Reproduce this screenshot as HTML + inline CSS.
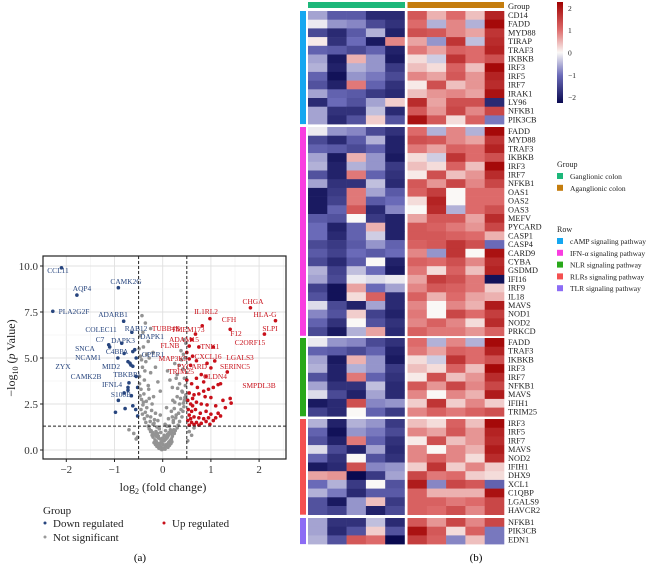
<!DOCTYPE html>
<html><head><meta charset="utf-8"><style>
html,body{margin:0;padding:0;background:#fff;}
svg{display:block;font-family:"Liberation Serif",serif;}
</style></head><body>
<svg id="fig" width="654" height="565" viewBox="0 0 654 565" xmlns="http://www.w3.org/2000/svg">
<g id="volcano"></g>
<g id="heat"></g>
<text x="140" y="561" font-size="11" text-anchor="middle">(a)</text>
<text x="476" y="561" font-size="11" text-anchor="middle">(b)</text>
</svg>
<script>
// ---------- Volcano data ----------
const grayX=[0,0.02,-0.03,0.05,-0.06,0.08,-0.1,0.12,-0.13,0.15,-0.16,0.18,-0.2,0.2,-0.22,0.24,-0.25,0.26,-0.28,0.3,0.01,-0.02,0.04,-0.05,0.07,-0.09,0.1,-0.11,0.13,-0.14,0.16,0,0.03,-0.04,0.06,-0.07,0.09,-0.08,0.11,-0.12,0.14,-0.15,0.17,-0.18,0.19,-0.02,0.05,-0.06,
-0.3,0.32,-0.35,0.35,-0.38,0.4,-0.42,0.42,-0.45,0.44,-0.2,0.22,-0.1,0.12,-0.25,0.28,-0.15,0.18,-0.33,0.35,-0.4,0.45,-0.28,0.3,-0.47,0.48,0.05,-0.05,0.08,0.25,-0.22,0.4,
-0.45,-0.3,-0.38,-0.48,-0.25,-0.42,-0.35,-0.46,-0.2,-0.4,-0.3,-0.47,-0.43,-0.25,-0.36,-0.15,0.2,0.35,0.45,0.3,0.42,0.25,0.46,0.38,0.48,0.44,0.15,-0.1,0.1,-0.05,
-0.6,0.55,-0.7,0.65,0.6,-0.55,0.52,-0.52,
-0.12,0.14,-0.18,0.22,-0.26,0.27,-0.32,0.33,-0.36,0.38,-0.41,0.43,-0.44,0.46,-0.08,0.09,-0.17,0.2,-0.23,0.24,-0.34,0.37,-0.39,0.41,-0.48,0.47,-0.29,0.31,-0.19,0.21,-0.37,-0.44,-0.33,-0.41,-0.28,0.28,0.34,0.39,0.43,-0.49,
-0.04,0.03,-0.01,0.07,-0.09,0.1,-0.13,0.12,-0.16,0.17,-0.21,0.19,-0.24,0.23];
const grayY=[0.05,0.1,0.15,0.2,0.25,0.3,0.35,0.4,0.45,0.5,0.55,0.6,0.7,0.75,0.8,0.9,1.0,1.05,1.15,1.2,0.3,0.45,0.55,0.6,0.7,0.75,0.85,0.9,0.95,1.0,1.1,0.65,0.8,0.95,1.05,1.15,0.2,0.1,0.15,0.2,0.25,0.3,0.35,0.4,0.45,0.02,0.05,0.08,
1.3,1.35,1.5,1.55,1.7,1.8,1.95,2.1,2.2,2.35,1.4,1.5,1.6,1.7,1.8,1.9,2.0,2.1,2.3,2.5,2.6,2.7,2.8,2.9,2.95,3.0,1.4,1.9,2.3,2.6,2.5,3.2,
3.3,3.5,3.8,4.0,4.2,4.5,4.8,5.1,5.3,5.6,5.9,6.2,7.3,6.6,6.9,4.5,3.4,3.6,3.9,4.1,4.4,4.7,5.0,5.4,5.8,6.0,3.8,3.7,4.3,3.2,
0.9,1.0,1.1,1.2,0.8,0.6,0.5,0.7,
1.25,1.3,1.45,1.6,1.55,1.75,1.85,2.0,2.05,2.2,2.45,2.55,2.75,2.85,1.2,1.3,1.65,1.8,2.15,2.25,2.65,2.8,3.05,3.15,3.6,3.5,3.3,3.35,2.9,2.7,4.3,4.9,5.2,6.4,5.0,3.9,4.6,4.9,5.2,5.5,
0.4,0.5,0.55,0.6,0.65,0.7,0.75,0.8,0.85,0.9,0.95,1.0,1.05,1.1];
const upX=[1.82,2.34,2.11,0.98,1.4,0.82,0.68,0.6,0.55,0.75,1.05,0.5,0.62,0.55,0.7,1.08,0.92,1.0,1.34,0.58,
0.8,0.9,0.7,1.2,1.15,0.85,0.6,0.95,1.05,0.55,0.65,0.75,0.88,1.0,1.25,1.4,1.42,0.52,0.58,0.62,0.7,0.8,0.92,1.1,1.3,0.53,0.6,0.68,0.78,0.9,1.0,1.15,1.2,0.55,0.65,0.75,0.85,0.95,1.05,1.1,0.52,0.6,0.7,0.8,0.9,0.98,0.55,0.65,0.75,0.62,0.72,0.5,0.85,0.58];
const upY=[7.73,7.03,6.3,7.14,6.56,6.75,6.3,6.0,5.65,5.6,5.6,5.3,5.1,4.95,4.85,4.84,4.71,4.46,4.24,4.6,
4.1,4.0,3.9,3.6,3.55,3.7,3.6,3.3,3.4,3.1,3.0,3.05,2.9,2.85,2.7,2.8,2.55,2.7,2.5,2.4,2.6,2.5,2.45,2.4,2.3,2.2,2.1,2.2,2.0,2.1,1.95,2.0,1.85,1.9,1.8,1.75,1.7,1.75,1.6,1.75,1.6,1.5,1.5,1.45,1.55,1.4,1.35,1.38,1.35,2.8,3.4,3.8,3.2,1.7];
const downX=[-2.1,-1.78,-2.28,-0.92,-0.81,-0.64,-0.85,-1.12,-1.1,-0.8,-0.62,-0.58,-0.55,-0.93,-0.72,-0.68,-0.62,-0.66,-0.7,-0.72,-0.72,-0.92,-0.8,-0.65,-0.98,-0.78,-0.62,-0.52,-0.56,-0.52,-0.55];
const downY=[9.9,8.42,7.54,8.82,7.0,6.4,5.8,5.72,5.6,5.25,5.35,5.45,5.0,5.0,4.8,4.72,4.55,4.62,3.65,3.4,3.25,2.7,3.1,2.95,2.05,2.25,2.4,1.85,2.2,3.4,4.0];
const xTicks=[-2,-1,0,1,2];
const yTicks=[0,2.5,5,7.5,10];
const yTickLabels=["0.0","2.5","5.0","7.5","10.0"];

// ---------- Heatmap data ----------
const groupNames=["cAMP signaling pathway","IFN-α signaling pathway","NLR signaling pathway","RLRs signaling pathway","TLR signaling pathway"];
const cAMPGenes=["CD14","FADD","MYD88","TIRAP","TRAF3","IKBKB","IRF3","IRF5","IRF7","IRAK1","LY96","NFKB1","PIK3CB"];
const ifnGenes=["FADD","MYD88","TRAF3","IKBKB","IRF3","IRF7","NFKB1","OAS1","OAS2","OAS3","MEFV","PYCARD","CASP1","CASP4","CARD9","CYBA","GSDMD","IFI16","IRF9","IL18","MAVS","NOD1","NOD2","PRKCD"];
const nlrGenes=["FADD","TRAF3","IKBKB","IRF3","IRF7","NFKB1","MAVS","IFIH1","TRIM25"];
const rlrGenes=["IRF3","IRF5","IRF7","MAVS","NOD2","IFIH1","DHX9","XCL1","C1QBP","LGALS9","HAVCR2"];
const tlrGenes=["NFKB1","PIK3CB","EDN1"];
const geneValues={
CD14:[-0.6,-1.2,-1.2,-1.8,-1.8,1.2,0.5,1.0,0.4,1.8],
FADD:[-0.1,-0.7,-0.8,-1.4,-1.7,1.0,-0.5,0.8,-0.5,2.1],
MYD88:[-1.4,-1.8,-1.2,-0.5,-1.9,1.3,1.2,0.8,0.6,1.6],
TIRAP:[0.1,-1.7,-1.0,-2.0,0.8,0.6,-0.7,1.6,-0.4,1.7],
TRAF3:[-1.1,-1.2,-1.4,-1.1,-1.9,0.9,0.6,1.1,1.0,1.8],
IKBKB:[-0.6,-2.0,0.5,-0.7,-2.0,0.2,-0.3,1.6,1.0,1.3],
IRF3:[-0.5,-1.9,-0.5,-0.7,-1.6,0.4,0.2,1.1,0.4,2.1],
IRF5:[-1.1,-2.1,-0.7,-0.9,-1.4,0.8,0.6,1.2,0.7,1.8],
IRF7:[-1.3,-1.9,0.9,-1.1,-1.7,0.1,1.3,0.4,0.7,1.7],
IRAK1:[-0.6,-1.1,-1.2,-1.6,-1.8,0.4,0.7,0.8,0.6,2.0],
LY96:[-1.8,-1.0,-1.3,-0.6,0.3,1.7,0.6,1.3,1.3,-1.8],
NFKB1:[-0.6,-1.7,-1.7,-0.4,-1.8,1.2,0.7,1.4,0.8,1.4],
PIK3CB:[-0.6,-1.8,-1.3,0.3,-1.3,2.0,1.2,0.2,1.1,-0.9],
OAS1:[-2.0,-1.6,0.9,-0.6,-1.2,1.1,1.5,0.0,1.0,1.0],
OAS2:[-2.0,-1.5,0.9,-1.2,-1.0,0.2,1.8,0.0,1.0,1.0],
OAS3:[-2.0,-1.1,1.2,-1.8,-0.8,0.0,1.7,-0.5,1.0,1.3],
MEFV:[-1.2,-1.3,0.0,-1.6,-1.9,0.6,1.2,1.2,0.6,1.7],
PYCARD:[-1.0,-1.9,-1.1,0.5,-1.9,1.2,1.1,0.9,0.7,1.4],
CASP1:[-1.0,-1.8,-1.1,-0.3,-1.9,1.2,1.2,1.1,1.0,0.5],
CASP4:[-1.4,-1.6,-1.2,-0.7,-1.1,1.1,1.2,1.6,1.3,-1.0],
CARD9:[-1.2,-1.5,-1.0,-1.2,-1.0,0.8,-0.7,1.6,0.0,2.0],
CYBA:[-1.4,-1.8,-1.2,0.0,-1.9,1.1,1.0,1.3,0.8,1.7],
GSDMD:[-0.5,-1.5,-0.4,-1.0,-2.0,0.9,0.2,1.1,0.4,1.8],
IFI16:[-0.6,-1.4,-0.1,-0.2,-0.1,0.6,1.5,1.3,0.9,-2.1],
IRF9:[-1.5,-2.1,0.6,-1.0,-0.6,0.8,1.2,1.1,0.9,0.3],
IL18:[-1.3,-2.1,0.2,1.1,-1.8,1.1,0.5,1.0,0.6,0.5],
MAVS:[-0.2,-1.4,-1.9,-0.6,-1.8,0.8,0.0,0.8,0.5,1.9],
NOD1:[-0.8,-1.3,0.3,-1.5,-1.9,0.9,0.0,1.4,1.0,1.5],
NOD2:[-1.1,-1.7,0.0,-1.3,-1.7,0.8,1.1,0.8,0.2,1.7],
PRKCD:[-1.4,-2.0,-0.5,0.6,-1.8,1.1,0.9,0.9,0.7,1.1],
IFIH1:[-2.0,-1.8,1.3,-0.8,-0.7,0.3,1.6,0.3,0.8,0.3],
TRIM25:[-1.5,-1.8,0.0,-1.1,-1.6,0.8,1.1,0.9,1.1,1.3],
DHX9:[0.6,0.7,-2.2,-1.6,-0.6,1.4,0.9,1.0,0.3,0.2],
XCL1:[-1.0,-0.5,-1.6,0.0,-1.3,1.9,-0.8,1.4,1.2,-1.1],
C1QBP:[-0.5,-0.9,-1.8,-1.2,-1.2,1.1,0.5,0.5,0.5,2.0],
LGALS9:[-1.3,-2.0,-0.7,0.4,-1.6,1.1,1.1,0.9,1.0,1.4],
HAVCR2:[-1.3,-1.5,-0.7,-1.9,-1.4,1.1,1.0,1.3,0.8,1.4],
EDN1:[-0.5,-1.3,1.2,1.0,-2.2,1.5,1.1,-0.8,0.4,-0.9]
};
const colorTicks=[2,1,0,-1,-2];

const NS="http://www.w3.org/2000/svg";
function mk(tag,attrs,parent){const e=document.createElementNS(NS,tag);for(const k in attrs)e.setAttribute(k,attrs[k]);parent.appendChild(e);return e;}

// ---------- Volcano ----------
const V=document.getElementById('volcano');
const L=43,R=286,T=256,B=459;
const sx=v=>162.7+v*48.2;
const sy=v=>450-v*18.4;
mk('rect',{x:L,y:T,width:R-L,height:B-T,fill:'#fff'},V);
for(let v=-2.5;v<=2.5;v+=0.5){const x=sx(v);if(x<L||x>R)continue;const g=mk('line',{x1:x,x2:x,y1:T,y2:B,stroke:Number.isInteger(v)?'#e0e0e0':'#efefef','stroke-width':Number.isInteger(v)?0.9:0.6},V);

}
for(let v=-1.25;v<=10.5;v+=1.25){const y=sy(v);if(y<T||y>B)continue;const g=mk('line',{x1:L,x2:R,y1:y,y2:y,stroke:(v%2.5===0)?'#e0e0e0':'#efefef','stroke-width':(v%2.5===0)?0.9:0.6},V);

}
function dots(xs,ys,col,name){for(let i=0;i<xs.length;i++){const c=mk('circle',{cx:sx(xs[i]),cy:sy(ys[i]),r:1.8,fill:col},V);

}}
dots(grayX,grayY,'#939393','point-not-significant');
dots(upX,upY,'#c8101a','point-up-regulated');
dots(downX,downY,'#27457e','point-down-regulated');
[[sx(-0.5),T,sx(-0.5),B],[sx(0.5),T,sx(0.5),B],[L,sy(1.3),R,sy(1.3)]].forEach(a=>{const d=mk('line',{x1:a[0],y1:a[1],x2:a[2],y2:a[3],stroke:'#222','stroke-width':1,'stroke-dasharray':'3,2'},V);

});
const fr=mk('rect',{x:L,y:T,width:R-L,height:B-T,fill:'none',stroke:'#222','stroke-width':1.2},V);


xTicks.forEach(t=>{const x=sx(t);mk('line',{x1:x,x2:x,y1:B,y2:B+3,stroke:'#222'},V);
const tx=mk('text',{x:x,y:B+14,'font-size':11,'text-anchor':'middle',fill:'#333'},V);tx.textContent=t<0?'−'+(-t):String(t);

});
yTicks.forEach((t,i)=>{const y=sy(t);mk('line',{x1:L-3,x2:L,y1:y,y2:y,stroke:'#222'},V);
const tx=mk('text',{x:L-5,y:y+4,'font-size':11,'text-anchor':'end',fill:'#333'},V);tx.textContent=yTickLabels[i];

});
const blueLab=[["CCL11",58,273],["AQP4",82,291],["PLA2G2F",74,314],["CAMK2G",126,284],["ADARB1",113,317],["RAB12",136,331],["COLEC11",101,332],["C7",100,342],["SNCA",85,351],["DAPK3",123,343],["DAPK1",152,339],["C4BPA",117,354],["GPER1",153,357],["NCAM1",88,360],["ZYX",63,369],["MID2",111,369],["CAMK2B",86,379],["TBKBP1",127,377],["IFNL4",112,387],["S100B",121,397]];
const redLab=[["CHGA",253,304],["HLA-G",265,317],["SLPI",270,331],["IL1RL2",206,314],["CFH",229,322],["TUBB4B",166,331],["TMEM173",188,332],["F12",236,336],["ADAM15",184,342],["C2ORF15",250,345],["FLNB",170,348],["TNK1",210,349],["CXCL16",208,359],["LGALS3",240,360],["MAP3K5",173,361],["SERINC5",235,369],["PYCARD",192,369],["TRIM25",181,374],["CLDN4",215,379],["SMPDL3B",259,388]];
function labs(arr,col){arr.forEach(a=>{const t=mk('text',{x:a[1],y:a[2],'font-size':7.4,'text-anchor':'middle',fill:col},V);t.textContent=a[0];

});}
labs(blueLab,'#27457e');labs(redLab,'#c8101a');
const yt=mk('text',{x:0,y:0,'font-size':12,'text-anchor':'middle',fill:'#222',transform:'translate(15,358) rotate(-90)'},V);
yt.innerHTML='−log<tspan font-size="8" dy="3">10</tspan><tspan dy="-3"> (</tspan><tspan font-style="italic">p</tspan> Value)';


const xt=mk('text',{x:163,y:491,'font-size':12,'text-anchor':'middle',fill:'#222'},V);
xt.innerHTML='log<tspan font-size="8" dy="3">2</tspan><tspan dy="-3"> (fold change)</tspan>';


const lg=mk('g',{},V);


[["Group",43,514,null],["Down regulated",53,527,'#27457e'],["Up regulated",172,527,'#c8101a'],["Not significant",53,541,'#9a9a9a']].forEach(a=>{
if(a[3]){mk('circle',{cx:a[1]-8,cy:a[2]-4,r:1.5,fill:a[3]},lg);}
const t=mk('text',{x:a[1],y:a[2],'font-size':11,fill:'#222'},lg);t.textContent=a[0];

});

// ---------- Heatmap ----------
const H=document.getElementById('heat');
const groups=[cAMPGenes,ifnGenes,nlrGenes,rlrGenes,tlrGenes];
const groupTop=[11,127,338,419,518];
const groupCol=['#16a7f0','#f93de0','#29a81a','#f45050','#8c6cf5'];
const rowH=8.7;
const colX=c=>c<5?308+c*19.3:407.5+(c-5)*19.3;
const stops=[[-2.2,[10,10,80]],[-1,[106,106,184]],[0,[250,248,246]],[1,[221,106,106]],[2.2,[160,0,0]]];
function col(v){v=Math.max(-2.2,Math.min(2.2,v));for(let i=0;i<stops.length-1;i++){const a=stops[i],b=stops[i+1];if(v<=b[0]){const t=(v-a[0])/(b[0]-a[0]);const c=a[1].map((x,j)=>Math.round(x+(b[1][j]-x)*t));return 'rgb('+c.join(',')+')';}}return 'rgb(160,0,0)';}
const gb1=mk('rect',{x:308,y:2,width:97,height:6,fill:'#1db77a'},H);


const gb2=mk('rect',{x:407.5,y:2,width:96.5,height:6,fill:'#c47d0e'},H);


const gt=mk('text',{x:508,y:9,'font-size':8.5,fill:'#222'},H);gt.textContent='Group';


groups.forEach((genes,g)=>{
const top=groupTop[g];
const sb=mk('rect',{x:300,y:top,width:6,height:genes.length*rowH,fill:groupCol[g]},H);


genes.forEach((gn,r)=>{const vals=geneValues[gn];const y=top+r*rowH;
vals.forEach((v,c)=>{const cell=mk('rect',{x:colX(c),y:y,width:19.6,height:rowH+0.3,fill:col(v)},H);

});
const t=mk('text',{x:508,y:y+7,'font-size':8.3,fill:'#222'},H);t.textContent=gn;

});
});
const defs=mk('defs',{},H);const grad=mk('linearGradient',{id:'cb',x1:0,y1:1,x2:0,y2:0},defs);
stops.forEach(s=>{mk('stop',{offset:((s[0]+2.2)/4.4*100)+'%','stop-color':col(s[0])},grad);});
const cb=mk('rect',{x:557,y:2,width:6,height:101,fill:'url(#cb)'},H);


colorTicks.forEach(t=>{const y=52.5-t*22.3;const tx=mk('text',{x:568,y:y+3,'font-size':7.5,fill:'#222'},H);tx.textContent=t<0?'−'+(-t):String(t);

});
function legend(title,ty,items,cols){const t=mk('text',{x:557,y:ty,'font-size':8,fill:'#222'},H);t.textContent=title;


items.forEach((it,i)=>{const y=ty+12+i*11.8;mk('rect',{x:557,y:y-6,width:6,height:6,fill:cols[i]},H);
const e=mk('text',{x:570,y:y,'font-size':7.5,fill:'#222'},H);e.textContent=it;

});}
legend('Group',167,['Ganglionic colon','Aganglionic colon'],['#1db77a','#c47d0e']);
legend('Row',232,groupNames,groupCol);
</script>
</body></html>
